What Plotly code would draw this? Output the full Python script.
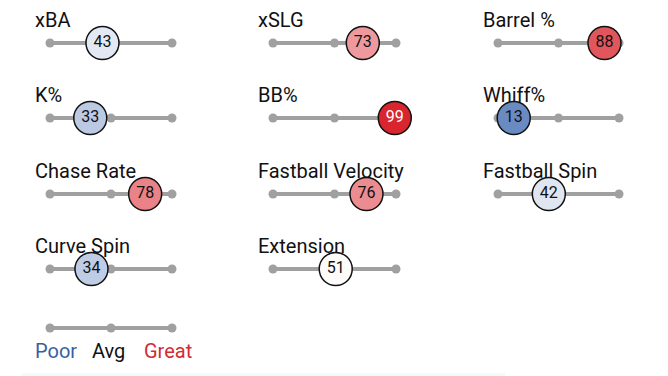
import plotly.graph_objects as go

# ---- data ----
metrics = ["xBA", "xSLG", "Barrel %",
           "K%", "BB%", "Whiff%",
           "Chase Rate", "Fastball Velocity", "Fastball Spin",
           "Curve Spin", "Extension"]
percentiles = [43, 73, 88,
               33, 99, 13,
               78, 76, 42,
               34, 51]
track_ticks = [0, 50, 100]
legend_labels = ["Poor", "Avg", "Great"]

# ---- layout geometry (pixels, page has an 8px body margin) ----
W, H = 668, 376
OFF = 8
col_x = [(50, 172), (273, 396), (498, 619)]
row_y = [43, 118, 194, 269]
legend_y = 328

colorscale = [[0.0, "#3661ad"], [0.5, "#ffffff"], [1.0, "#d82129"]]
FONT = "Roboto, Arial, sans-serif"

fig = go.Figure()
layout_axes = {}


def add_panel(idx, x0, x1, yc):
    n = idx + 1
    xa = "xaxis" if n == 1 else f"xaxis{n}"
    ya = "yaxis" if n == 1 else f"yaxis{n}"
    xr = "x" if n == 1 else f"x{n}"
    yr = "y" if n == 1 else f"y{n}"
    x0 -= OFF
    x1 -= OFF
    yc -= OFF
    layout_axes[xa] = dict(domain=[x0 / W, x1 / W], range=[0, 100], visible=False,
                           fixedrange=True, anchor=yr)
    layout_axes[ya] = dict(domain=[(H - yc - 10) / H, (H - yc + 10) / H], range=[-1, 1],
                           visible=False, fixedrange=True, anchor=xr)
    return xr, yr


for i, (name, val) in enumerate(zip(metrics, percentiles)):
    r, c = divmod(i, 3)
    x0, x1 = col_x[c]
    xr, yr = add_panel(i, x0, x1, row_y[r])
    # track line
    fig.add_trace(go.Scatter(x=track_ticks, y=[0, 0, 0], xaxis=xr, yaxis=yr,
                             mode="lines+markers",
                             line=dict(color="#a0a0a0", width=4),
                             marker=dict(color="#a0a0a0", size=9),
                             hoverinfo="skip", showlegend=False, cliponaxis=False))
    # percentile bubble
    fig.add_trace(go.Scatter(x=[val], y=[0], xaxis=xr, yaxis=yr, mode="markers+text",
                             text=[str(val)], textposition="middle center",
                             textfont=dict(family=FONT, size=16,
                                           color="#ffffff" if val >= 95 else "#111111"),
                             marker=dict(size=33, color=[val], colorscale=colorscale,
                                         cmin=0, cmax=100,
                                         line=dict(color="#111111", width=1.5)),
                             showlegend=False, cliponaxis=False, hoverinfo="skip"))
    fig.add_annotation(x=0, y=0, xref=xr, yref=yr, text=name, showarrow=False,
                       xanchor="left", yanchor="bottom", xshift=-16, yshift=10,
                       borderpad=0,
                       font=dict(family=FONT, size=20, color="#111111"))

# legend track
xr, yr = add_panel(len(metrics), col_x[0][0], col_x[0][1], legend_y)
fig.add_trace(go.Scatter(x=track_ticks, y=[0, 0, 0], xaxis=xr, yaxis=yr,
                         mode="lines+markers",
                         line=dict(color="#a0a0a0", width=4),
                         marker=dict(color="#a0a0a0", size=9),
                         hoverinfo="skip", showlegend=False, cliponaxis=False))
legend_colors = ["#3a5fa0", "#111111", "#d42a35"]
legend_shift = [6, -3, -4]
for t, lab, col, sh in zip(track_ticks, legend_labels, legend_colors, legend_shift):
    fig.add_annotation(x=t, y=0, xref=xr, yref=yr, text=lab, showarrow=False,
                       xanchor="center", yanchor="top", yshift=-9, xshift=sh,
                       font=dict(family=FONT, size=20, color=col))

fig.add_shape(type="line", xref="paper", yref="paper", x0=(22 - OFF) / W, x1=(505 - OFF) / W,
              y0=(H - 375 + OFF) / H, y1=(H - 375 + OFF) / H,
              line=dict(color="#eefafc", width=3))

fig.update_layout(width=W, height=H, margin=dict(l=0, r=0, t=0, b=0),
                  paper_bgcolor="white", plot_bgcolor="white", **layout_axes)

fig.write_html("out.html")
